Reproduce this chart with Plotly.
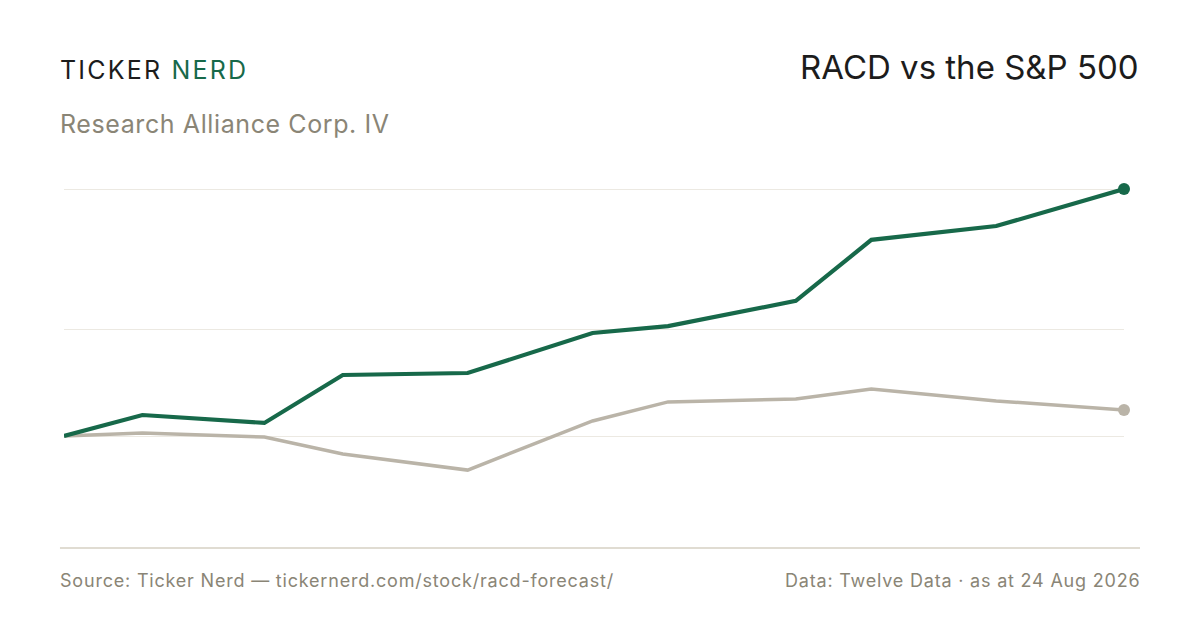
import plotly.graph_objects as go

# dates of each sample, and % change since the first one
dates = ['2025-08-24', '2025-09-20', '2025-11-01', '2025-11-28', '2026-01-10',
         '2026-02-22', '2026-03-20', '2026-05-03', '2026-05-29', '2026-07-11',
         '2026-08-24']
racd = [0, 0.85, 0.53, 2.47, 2.55, 4.17, 4.45, 5.47, 7.94, 8.50, 10.0]
spx = [0, 0.12, -0.04, -0.73, -1.38, 0.61, 1.38, 1.50, 1.90, 1.42, 1.05]
grid_vals = [0, 4.33, 10.0]

GREEN = '#17694a'
GREY = '#bab4a8'
MUTED = '#8a8576'
FONT = 'Inter, Roboto, sans-serif'

fig = go.Figure()

fig.add_trace(go.Scatter(x=dates, y=spx, mode='lines', name='S&P 500',
                         line=dict(color=GREY, width=3.5), hoverinfo='skip'))
fig.add_trace(go.Scatter(x=[dates[-1]], y=[spx[-1]], mode='markers',
                         marker=dict(color=GREY, size=12), cliponaxis=False,
                         hoverinfo='skip'))
fig.add_trace(go.Scatter(x=dates, y=racd, mode='lines', name='RACD',
                         line=dict(color=GREEN, width=4.2), hoverinfo='skip'))
fig.add_trace(go.Scatter(x=[dates[-1]], y=[racd[-1]], mode='markers',
                         marker=dict(color=GREEN, size=12), cliponaxis=False,
                         hoverinfo='skip'))

# baseline under the chart
fig.add_shape(type='line', xref='paper', yref='paper',
              x0=-0.0038, x1=1.0151, y0=0, y1=0,
              line=dict(color='#e0dcd2', width=2))


def spaced(txt, px):
    return '<span style="letter-spacing:%spx">%s</span>' % (px, txt)


fig.add_annotation(text='<span style="letter-spacing:2.2px">TICKER </span>'
                        '<span style="letter-spacing:2.2px;fill:%s">NERD</span>' % GREEN,
                   xref='paper', yref='paper', x=-0.0057, y=1.232,
                   xanchor='left', yanchor='middle', showarrow=False,
                   font=dict(family=FONT, size=25, color='#1c1c1c'))
fig.add_annotation(text='RACD vs the S&P 500', xref='paper', yref='paper',
                   x=1.016, y=1.2397, xanchor='right', yanchor='middle',
                   showarrow=False, font=dict(family=FONT, size=33, color='#1c1c1c'))
fig.add_annotation(text=spaced('Research Alliance Corp. IV', 0.6),
                   xref='paper', yref='paper',
                   x=-0.0057, y=1.0925, xanchor='left', yanchor='middle',
                   showarrow=False, font=dict(family=FONT, size=25, color=MUTED))
fig.add_annotation(text=spaced('Source: Ticker Nerd — tickernerd.com/stock/racd-forecast/', 0.8),
                   xref='paper', yref='paper', x=-0.0057, y=-0.084,
                   xanchor='left', yanchor='middle', showarrow=False,
                   font=dict(family=FONT, size=18, color=MUTED))
fig.add_annotation(text=spaced('Data: Twelve Data · as at 24 Aug 2026', 0.8),
                   xref='paper', yref='paper', x=1.017, y=-0.084,
                   xanchor='right', yanchor='middle', showarrow=False,
                   font=dict(family=FONT, size=18, color=MUTED))

fig.update_layout(
    width=1200, height=630,
    margin=dict(l=56, r=84, t=152, b=90),
    paper_bgcolor='white', plot_bgcolor='white',
    showlegend=False,
    xaxis=dict(range=[dates[0], dates[-1]], showgrid=False, showticklabels=False,
               zeroline=False, showline=False, ticks=''),
    yaxis=dict(range=[-4.534, 11.174], tickvals=grid_vals, showticklabels=False,
               gridcolor='#ece9e2', gridwidth=1, zeroline=False, showline=False,
               ticks=''),
)

fig.write_html('out.html')
